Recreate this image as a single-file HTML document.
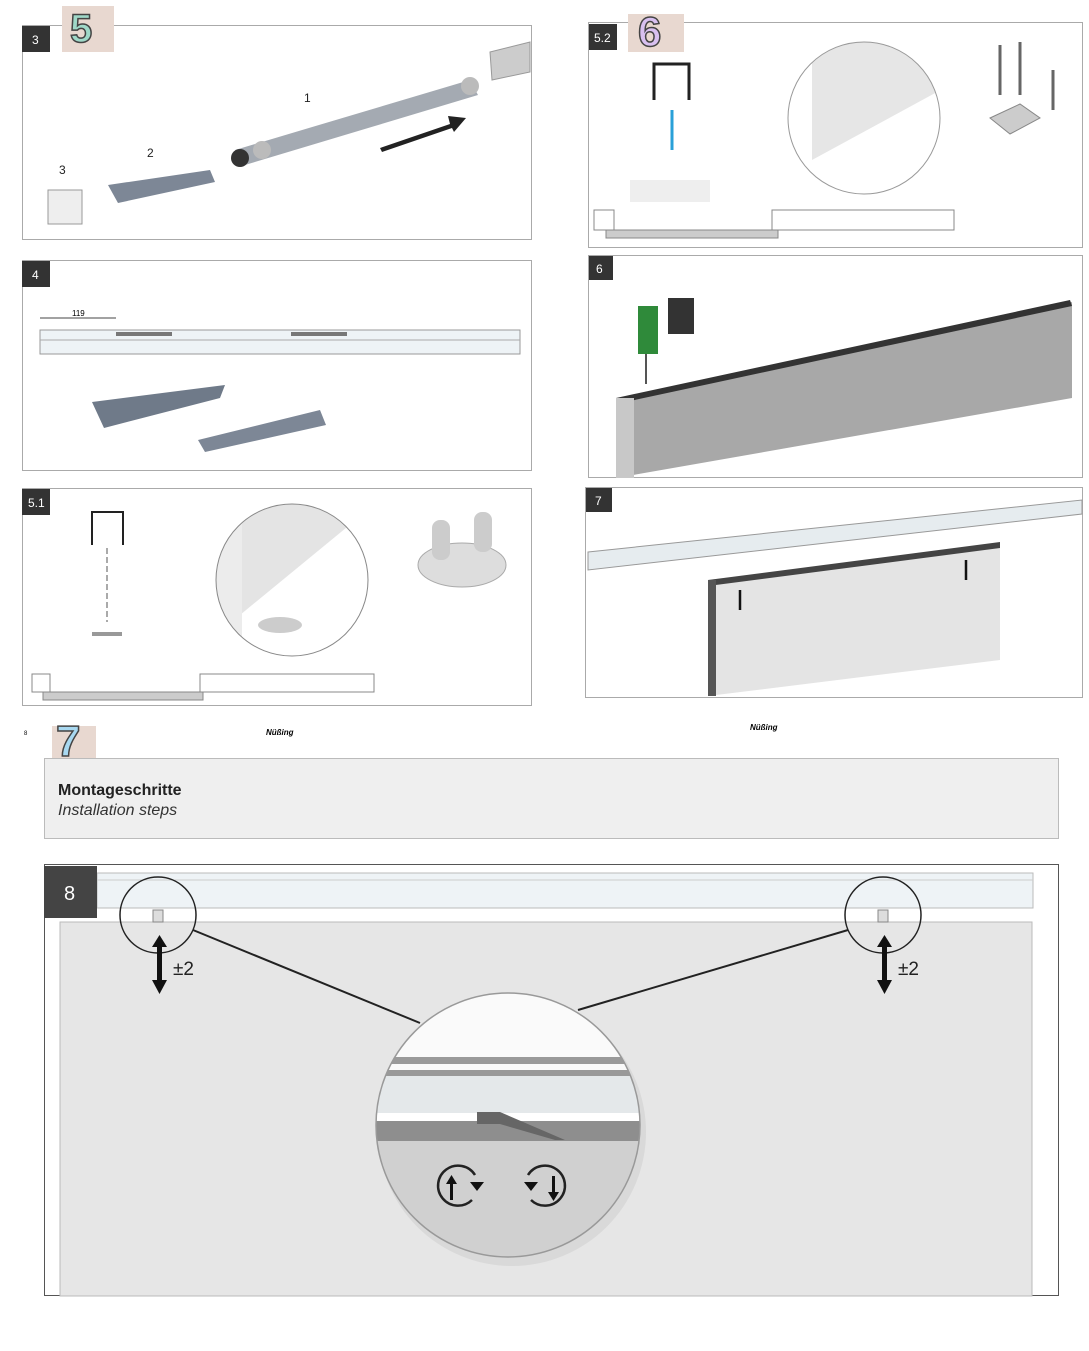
<!DOCTYPE html>
<html><head><meta charset="utf-8"><style>
html,body{margin:0;padding:0;background:#fff;width:1089px;height:1351px;overflow:hidden}
svg{display:block;font-family:"Liberation Sans",sans-serif}
</style></head><body>
<svg width="1089" height="1351" viewBox="0 0 1089 1351" xmlns="http://www.w3.org/2000/svg">
<defs>
<clipPath id="zc"><circle cx="508" cy="1125" r="132"/></clipPath>
<clipPath id="c51"><circle cx="292" cy="580" r="76"/></clipPath>
<clipPath id="c52"><circle cx="864" cy="118" r="76"/></clipPath>
</defs>
<g fill="none" stroke="#aaa" stroke-width="1">
<rect x="22.5" y="25.5" width="509" height="214"/>
<rect x="22.5" y="260.5" width="509" height="210"/>
<rect x="22.5" y="488.5" width="509" height="217"/>
<rect x="588.5" y="22.5" width="494" height="225"/>
<rect x="588.5" y="255.5" width="494" height="222"/>
<rect x="585.5" y="487.5" width="497" height="210"/>
</g>
<g fill="#333"><rect x="22" y="26" width="28" height="26"/><rect x="22" y="261" width="28" height="26"/><rect x="22" y="489" width="28" height="26"/><rect x="589" y="24" width="28" height="26"/><rect x="589" y="256" width="24" height="24"/><rect x="586" y="488" width="26" height="24"/></g>
<g fill="#fff" font-size="12"><text x="32" y="44">3</text><text x="32" y="279">4</text><text x="28" y="507">5.1</text><text x="594" y="42">5.2</text><text x="596" y="273">6</text><text x="595" y="505">7</text></g>
<rect x="62" y="6" width="52" height="46" fill="#e8d8d0"/><text x="70" y="42" font-size="40" font-weight="bold" fill="#9fd8c8" stroke="#444" stroke-width="1.5">5</text>
<rect x="628" y="14" width="56" height="38" fill="#e8d8d0"/><text x="638" y="46" font-size="42" font-weight="bold" fill="#d8c0f0" stroke="#444" stroke-width="1.5">6</text>
<rect x="52" y="726" width="44" height="34" fill="#e8d8d0"/><text x="56" y="756" font-size="44" font-weight="bold" fill="#a8d8f0" stroke="#444" stroke-width="1.5">7</text>
<!-- panel 3 -->
<rect x="48" y="190" width="34" height="34" fill="#eee" stroke="#999"/>
<polygon points="108,185 210,170 215,182 118,203" fill="#7d8796"/>
<polygon points="235,150 470,80 478,95 245,165" fill="#a4aab2"/>
<circle cx="240" cy="158" r="9" fill="#333"/><circle cx="262" cy="150" r="9" fill="#bbb"/><circle cx="470" cy="86" r="9" fill="#bbb"/>
<polygon points="490,52 530,42 530,72 492,80" fill="#ccc" stroke="#999"/>
<polygon points="380,148 450,124 448,116 466,118 454,132 452,128 382,152" fill="#222"/>
<g font-size="12" fill="#222"><text x="304" y="102">1</text><text x="147" y="157">2</text><text x="59" y="174">3</text></g>
<!-- panel 4 -->
<rect x="40" y="330" width="480" height="24" fill="#eef3f6" stroke="#999"/>
<line x1="40" y1="340" x2="520" y2="340" stroke="#aaa"/>
<rect x="116" y="332" width="56" height="4" fill="#777"/><rect x="291" y="332" width="56" height="4" fill="#777"/>
<line x1="40" y1="318" x2="116" y2="318" stroke="#444"/><text x="72" y="316" font-size="8">119</text>
<polygon points="92,402 225,385 220,398 104,428" fill="#6f7a89"/>
<polygon points="198,440 320,410 326,425 205,452" fill="#7d8796"/>
<!-- panel 5.1 -->
<path d="M92,545 V512 H123 V545" fill="none" stroke="#222" stroke-width="2"/>
<line x1="107" y1="548" x2="107" y2="622" stroke="#555" stroke-dasharray="6,3"/>
<rect x="92" y="632" width="30" height="4" fill="#999"/>
<circle cx="292" cy="580" r="76" fill="#fff"/>
<g clip-path="url(#c51)"><polygon points="200,500 380,500 240,615" fill="#e4e4e4"/><rect x="200" y="500" width="42" height="160" fill="#ececec"/><ellipse cx="280" cy="625" rx="22" ry="8" fill="#ccc"/></g>
<circle cx="292" cy="580" r="76" fill="none" stroke="#888"/>
<rect x="32" y="674" width="18" height="18" fill="#fff" stroke="#888"/>
<rect x="43" y="692" width="160" height="8" fill="#ccc" stroke="#888"/>
<rect x="200" y="674" width="174" height="18" fill="#fff" stroke="#888"/>
<ellipse cx="462" cy="565" rx="44" ry="22" fill="#ddd" stroke="#aaa"/>
<rect x="432" y="520" width="18" height="40" rx="8" fill="#ccc"/><rect x="474" y="512" width="18" height="40" rx="8" fill="#ccc"/>
<!-- panel 5.2 -->
<path d="M654,100 V64 H689 V100" fill="none" stroke="#222" stroke-width="3"/>
<line x1="672" y1="110" x2="672" y2="150" stroke="#2aa0d8" stroke-width="3"/>
<rect x="630" y="180" width="80" height="22" fill="#eee"/>
<circle cx="864" cy="118" r="76" fill="#fff"/>
<g clip-path="url(#c52)"><polygon points="812,40 950,40 950,85 812,160" fill="#e6e6e6"/></g>
<circle cx="864" cy="118" r="76" fill="none" stroke="#999"/>
<rect x="594" y="210" width="20" height="20" fill="#fff" stroke="#888"/>
<rect x="606" y="230" width="172" height="8" fill="#ccc" stroke="#888"/>
<rect x="772" y="210" width="182" height="20" fill="#fff" stroke="#888"/>
<g stroke="#666" stroke-width="3"><line x1="1000" y1="45" x2="1000" y2="95"/><line x1="1020" y1="42" x2="1020" y2="95"/><line x1="1053" y1="70" x2="1053" y2="110"/></g>
<polygon points="990,118 1020,104 1040,118 1010,134" fill="#ccc" stroke="#888"/>
<!-- panel 6 -->
<polygon points="616,400 1072,302 1072,398 616,478" fill="#a8a8a8"/>
<polygon points="616,398 1070,300 1072,306 616,404" fill="#333"/>
<rect x="616" y="398" width="18" height="80" fill="#c8c8c8"/>
<rect x="638" y="306" width="20" height="48" fill="#2f8a3a"/><rect x="668" y="298" width="26" height="36" fill="#333"/>
<line x1="646" y1="354" x2="646" y2="384" stroke="#555" stroke-width="2"/>
<!-- panel 7 -->
<polygon points="588,552 1082,500 1082,514 588,570" fill="#e6ecef" stroke="#999"/>
<polygon points="708,580 1000,545 1000,660 708,696" fill="#e4e4e4"/>
<polygon points="708,580 1000,542 1000,548 708,586" fill="#444"/>
<rect x="708" y="580" width="8" height="116" fill="#555"/>
<g stroke="#111" stroke-width="2.5"><line x1="740" y1="590" x2="740" y2="610"/><line x1="966" y1="560" x2="966" y2="580"/></g>
<!-- middle -->
<text x="24" y="735" font-size="6">8</text>
<text x="266" y="735" font-size="8" font-style="italic" font-weight="bold">Nüßing</text>
<text x="750" y="730" font-size="8" font-style="italic" font-weight="bold">Nüßing</text>
<rect x="44.5" y="758.5" width="1014" height="80" fill="#efefef" stroke="#bbb"/>
<text x="58" y="795" font-size="16" font-weight="bold" fill="#222">Montageschritte</text>
<text x="58" y="815" font-size="16" font-style="italic" fill="#333">Installation steps</text>
<!-- panel 8 -->
<rect x="44.5" y="864.5" width="1014" height="431" fill="#fff" stroke="#555"/>
<rect x="97" y="873" width="936" height="35" fill="#eef3f6" stroke="#bbb"/>
<line x1="97" y1="880" x2="1033" y2="880" stroke="#ccc"/>
<rect x="60" y="922" width="972" height="374" fill="#e6e6e6" stroke="#bbb"/>
<rect x="44" y="866" width="53" height="52" fill="#444"/>
<text x="64" y="900" font-size="20" fill="#fff">8</text>
<circle cx="158" cy="915" r="38" fill="none" stroke="#222" stroke-width="1.5"/>
<circle cx="883" cy="915" r="38" fill="none" stroke="#222" stroke-width="1.5"/>
<rect x="153" y="910" width="10" height="12" fill="#ddd" stroke="#888"/><rect x="878" y="910" width="10" height="12" fill="#ddd" stroke="#888"/>
<line x1="193" y1="930" x2="420" y2="1023" stroke="#222" stroke-width="2"/>
<line x1="848" y1="930" x2="578" y2="1010" stroke="#222" stroke-width="2"/>
<g fill="#111"><rect x="157" y="945" width="5" height="35"/><polygon points="152,947 167,947 159.5,935"/><polygon points="152,980 167,980 159.5,994"/>
<rect x="882" y="945" width="5" height="35"/><polygon points="877,947 892,947 884.5,935"/><polygon points="877,980 892,980 884.5,994"/></g>
<text x="173" y="975" font-size="19" fill="#222">±2</text><text x="898" y="975" font-size="19" fill="#222">±2</text>
<circle cx="512" cy="1132" r="134" fill="#ccc" opacity="0.5"/>
<g clip-path="url(#zc)">
<rect x="370" y="990" width="280" height="280" fill="#fafafa"/>
<rect x="370" y="1057" width="280" height="7" fill="#9a9a9a"/>
<rect x="370" y="1070" width="280" height="6" fill="#999"/>
<rect x="370" y="1076" width="280" height="37" fill="#e4e8ea"/>
<rect x="370" y="1113" width="280" height="8" fill="#fff"/>
<rect x="370" y="1121" width="280" height="20" fill="#8e8e8e"/>
<rect x="370" y="1141" width="280" height="130" fill="#d0d0d0"/>
<polygon points="477,1112 500,1112 565,1140 555,1140 500,1124 477,1124" fill="#666"/>
</g>
<circle cx="508" cy="1125" r="132" fill="none" stroke="#999" stroke-width="1.5"/>
<g fill="none" stroke="#222" stroke-width="2.5">
<path d="M475,1175 A20,20 0 1 0 472,1200"/><path d="M528,1175 A20,20 0 1 1 531,1200"/>
</g>
<g fill="#111"><rect x="450" y="1182" width="3" height="18"/><polygon points="446,1184 457,1184 451.5,1175"/>
<rect x="552" y="1176" width="3" height="18"/><polygon points="548,1192 559,1192 553.5,1201"/>
<polygon points="470,1182 484,1182 477,1191"/><polygon points="524,1182 538,1182 531,1191"/></g>
</svg>
</body></html>
